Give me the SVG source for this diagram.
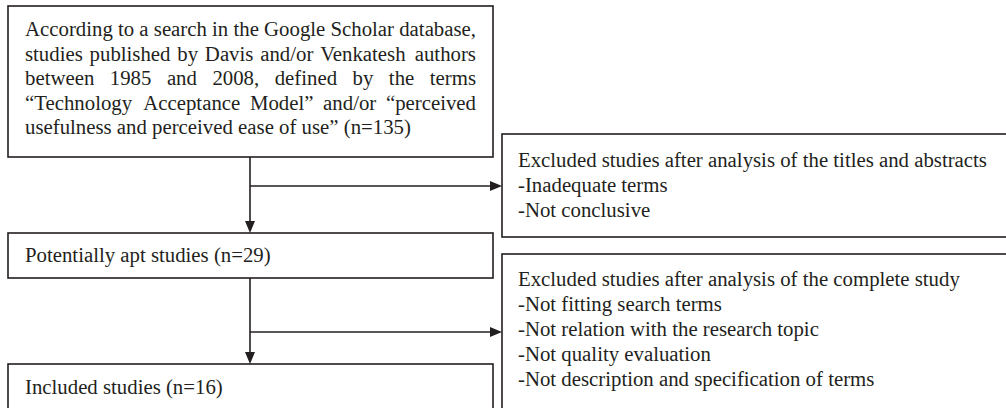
<svg xmlns="http://www.w3.org/2000/svg" width="1006" height="408" viewBox="0 0 1006 408">
  <style>
    .box { fill: #ffffff; stroke: #231f20; stroke-width: 1.6; }
    .txt { font-family: "Liberation Serif", "Times New Roman", serif; font-size: 20.8px; fill: #231f20; }
    .link { fill: none; stroke: #231f20; stroke-width: 1.6; }
  </style>
  <defs>
    <marker id="arrow" viewBox="0 0 12 10" refX="8" refY="5" markerWidth="12" markerHeight="10" markerUnits="userSpaceOnUse" orient="auto">
      <path d="M0,0 L12,5 L0,10 Z" fill="#231f20"/>
    </marker>
  </defs>
  <rect width="1006" height="408" fill="#ffffff"/>

  <!-- search criteria -->
  <g id="search">
    <rect class="box" x="8" y="6" width="485" height="151"/>
    <text class="txt" y="36"><tspan x="25">According to a search in the Google Scholar database,</tspan></text>
    <text class="txt" y="60.5">
      <tspan x="25">studies</tspan><tspan x="89.58">published</tspan><tspan x="177.27">by</tspan><tspan x="204.87">Davis</tspan><tspan x="260.2">and/or</tspan><tspan x="320.14">Venkatesh</tspan><tspan x="414.74">authors</tspan>
    </text>
    <text class="txt" y="85">
      <tspan x="25">between</tspan><tspan x="109.8">1985</tspan><tspan x="166.89">and</tspan><tspan x="212.42">2008,</tspan><tspan x="274.71">defined</tspan><tspan x="352.58">by</tspan><tspan x="388.87">the</tspan><tspan x="429.78">terms</tspan>
    </text>
    <text class="txt" y="109.5">
      <tspan x="25">“Technology</tspan><tspan x="143.27">Acceptance</tspan><tspan x="249.91">Model”</tspan><tspan x="323.12">and/or</tspan><tspan x="385.93">“perceived</tspan>
    </text>
    <text class="txt" y="134"><tspan x="25">usefulness and perceived ease of use” (n=135)</tspan></text>
  </g>

  <!-- first exclusion -->
  <g id="excluded-titles">
    <rect class="box" x="502" y="134" width="510" height="103"/>
    <text class="txt" x="518" y="167">Excluded studies after analysis of the titles and abstracts</text>
    <text class="txt" x="518" y="192">-Inadequate terms</text>
    <text class="txt" x="518" y="217">-Not conclusive</text>
  </g>

  <!-- screened set -->
  <g id="potentially-apt">
    <rect class="box" x="8" y="233" width="485" height="45"/>
    <text class="txt" x="25" y="262">Potentially apt studies (n=29)</text>
  </g>

  <!-- second exclusion -->
  <g id="excluded-full">
    <rect class="box" x="502" y="254" width="510" height="170"/>
    <text class="txt" x="518" y="285.5">Excluded studies after analysis of the complete study</text>
    <text class="txt" x="518" y="310.5">-Not fitting search terms</text>
    <text class="txt" x="518" y="335.5">-Not relation with the research topic</text>
    <text class="txt" x="518" y="360.5">-Not quality evaluation</text>
    <text class="txt" x="518" y="385.5">-Not description and specification of terms</text>
  </g>

  <!-- final set -->
  <g id="included">
    <rect class="box" x="8" y="364" width="485" height="60"/>
    <text class="txt" x="25" y="394">Included studies (n=16)</text>
  </g>

  <g id="connectors">
    <path class="link" d="M250,157 V229" marker-end="url(#arrow)"/>
    <path class="link" d="M250,186 H498" marker-end="url(#arrow)"/>
    <path class="link" d="M250,278 V360" marker-end="url(#arrow)"/>
    <path class="link" d="M250,332 H498" marker-end="url(#arrow)"/>
  </g>
</svg>
